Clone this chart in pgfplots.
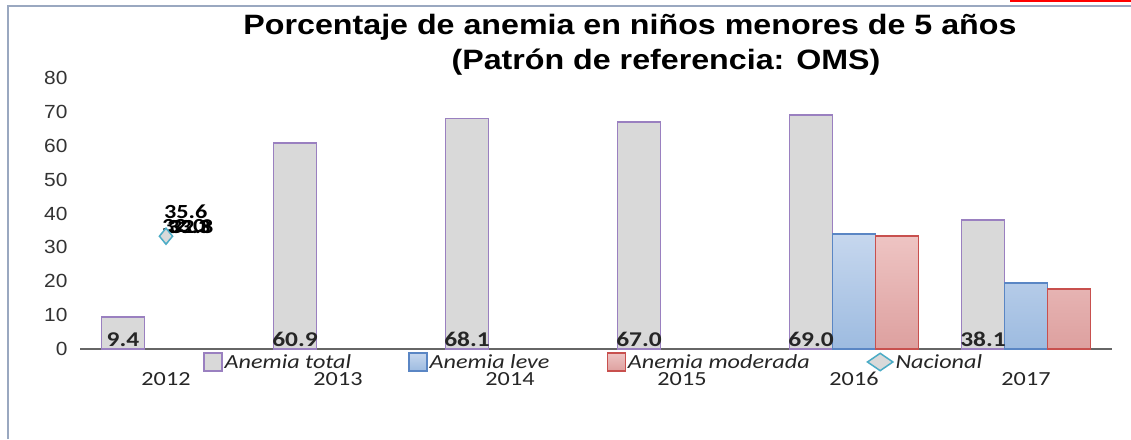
\documentclass[border=0pt]{standalone}
\usepackage{fontspec}
\usepackage{pgfplots}
\pgfplotsset{compat=1.18}
\usetikzlibrary{shapes.geometric}
\setmainfont{Liberation Sans}
\newfontfamily\titlefont[FakeStretch=1.15]{Liberation Sans}
\newfontfamily\calib[FakeStretch=1.21]{Carlito}
\newfontfamily\arialx[FakeStretch=1.1]{Liberation Sans}
\definecolor{totfill}{HTML}{D9D9D9}
\definecolor{totdraw}{HTML}{9A80C0}
\definecolor{levetop}{HTML}{C6D7EE}
\definecolor{levebot}{HTML}{9DBBE0}
\definecolor{levedraw}{HTML}{5A86C4}
\definecolor{modtop}{HTML}{EEC4C3}
\definecolor{modbot}{HTML}{DDA09F}
\definecolor{moddraw}{HTML}{C8504E}
\definecolor{nacdraw}{HTML}{4BACC6}
\definecolor{framec}{HTML}{9AA8C0}
\pgfplotsset{
  barleg/.style={legend image code/.code={\draw[##1] (0pt,-9pt) rectangle (18pt,9pt);}},
  nacleg/.style={legend image code/.code={\node[diamond, draw=nacdraw, fill=totfill, line width=1.5pt, minimum width=26pt, minimum height=18pt, inner sep=0pt] at (14pt,0pt) {};}},
}
\begin{document}
\begin{tikzpicture}
\path[use as bounding box] (0,0) rectangle (1131pt,439pt);
\fill[white] (0,0) rectangle (1131pt,439pt);
\draw[framec, line width=1.2pt] (8pt,0) -- (8pt,433pt) -- (1131pt,433pt);
\draw[red, line width=2pt] (1010pt,438pt) -- (1131pt,438pt);
\node[anchor=base, inner sep=0pt, font=\titlefont\bfseries\fontsize{28}{30}\selectfont] at (630pt,404pt) {Porcentaje de anemia en niños menores de 5 años};
\node[anchor=base, inner sep=0pt, font=\titlefont\bfseries\fontsize{28}{30}\selectfont] at (666pt,369pt) {(Patrón de referencia: OMS)};
\begin{axis}[
  scale only axis, width=1032pt, height=271pt,
  at={(80pt,90pt)}, anchor=south west,
  xmin=-0.5, xmax=5.5, ymin=0, ymax=80,
  axis lines*=left,
  y axis line style={draw=none},
  x axis line style={draw=black!60, line width=1.4pt},
  major tick length=0pt,
  ytick={0,10,...,80},
  xtick={0,...,5},
  xticklabels={2012,2013,2014,2015,2016,2017},
  /pgf/number format/assume math mode=true,
  yticklabel style={font=\arialx\fontsize{19}{19}\selectfont, text=black!80, xshift=-9pt},
  xticklabel style={font=\calib\fontsize{20}{20}\selectfont, text=black!85, anchor=base, yshift=-36pt},
  legend columns=4,
  legend style={at={(0.119,-0.011)}, anchor=north west, draw=none, fill=none, inner sep=0pt,
    font=\calib\itshape\fontsize{20}{20}\selectfont, text=black!85,
    /tikz/every even column/.append style={column sep=55pt},
    cells={anchor=west}},
]
\addplot[ybar, bar width=43pt, bar shift=-43pt, fill=totfill, draw=totdraw, line width=1.6pt,
  nodes near coords, point meta=explicit symbolic,
  visualization depends on={y \as \rawy},
  every node near coord/.append style={anchor=south, shift={(axis direction cs:0,-\rawy)}, xshift=-43pt,
     font=\calib\bfseries\fontsize{21}{21}\selectfont, inner sep=1.5pt, text=black!85},
  barleg]
  coordinates {(0,9.4) [9.4] (1,60.9) [60.9] (2,68.1) [68.1] (3,67.0) [67.0] (4,69.0) [69.0] (5,38.1) [38.1]};
\addlegendentry{Anemia total}
\addplot[ybar, bar width=43pt, bar shift=0pt, top color=levetop, bottom color=levebot, draw=levedraw, line width=1.4pt,
  barleg]
  coordinates {(4,33.9) (5,19.5)};
\addlegendentry{Anemia leve}
\addplot[ybar, bar width=43pt, bar shift=43pt, top color=modtop, bottom color=modbot, draw=moddraw, line width=1.4pt,
  barleg]
  coordinates {(4,33.3) (5,17.7)};
\addlegendentry{Anemia moderada}
\addplot[only marks, mark=diamond*, mark size=8pt,
  mark options={draw=nacdraw, fill=totfill, line width=1.5pt, xscale=1.1},
  nacleg]
  coordinates {(0,33.3)};
\addlegendentry{Nacional}
\node[anchor=west, inner sep=0pt, font=\calib\bfseries\fontsize{20}{20}\selectfont] at (axis cs:0,40.6) [xshift=-2pt] {35.6};
\node[anchor=west, inner sep=0pt, font=\calib\bfseries\fontsize{20}{20}\selectfont] at (axis cs:0,36.3) [xshift=-4pt] {32.0};
\node[anchor=west, inner sep=0pt, font=\calib\bfseries\fontsize{20}{20}\selectfont] at (axis cs:0,36.0) [xshift=1pt] {33.3};
\node[anchor=west, inner sep=0pt, font=\calib\bfseries\fontsize{20}{20}\selectfont] at (axis cs:0,36.2) [xshift=4pt] {32.8};
\end{axis}
\end{tikzpicture}
\end{document}
